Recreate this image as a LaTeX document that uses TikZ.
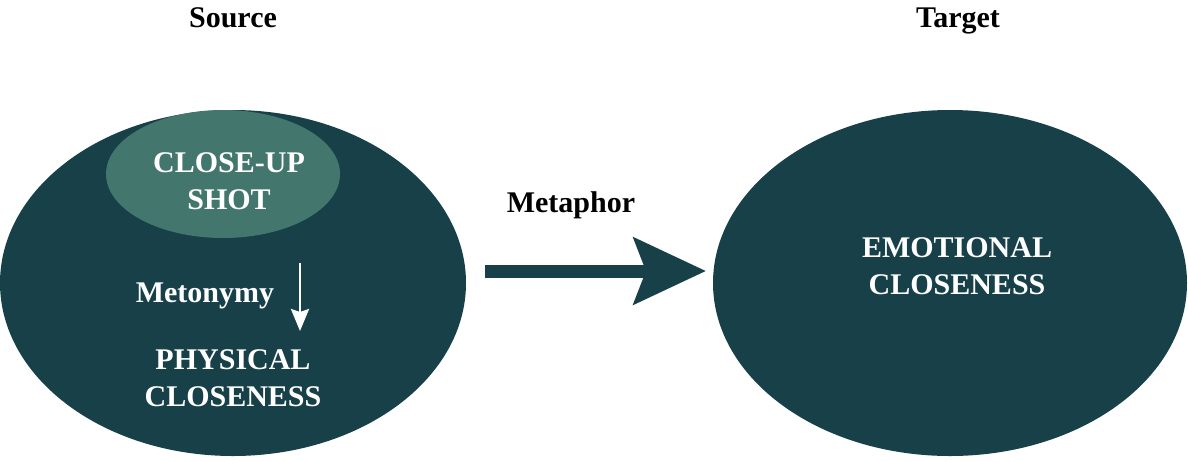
\documentclass[tikz,border=0pt]{standalone}
\usepackage{fontspec}
\setmainfont{Liberation Serif}
\usetikzlibrary{shapes.geometric,arrows.meta}
\definecolor{deepteal}{RGB}{23,64,73}
\definecolor{softteal}{RGB}{67,118,108}
\tikzset{
  domainbox/.style={ellipse, fill=deepteal, inner sep=0pt},
  subdomainbox/.style={ellipse, fill=softteal, inner sep=0pt},
  lbl/.style={font=\fontsize{15}{18.5}\selectfont\bfseries, align=center, inner sep=0pt},
  inlbl/.style={lbl, text=white},
  bigarrow/.style={draw=deepteal, line width=6.5pt,
    -{Stealth[length=36pt, width=33pt, inset=6pt]}},
  smallarrow/.style={draw=white, line width=1.3pt,
    -{Stealth[length=11pt, width=9pt, inset=1.5pt]}}
}
\begin{document}
\begin{tikzpicture}[x=0.5pt, y=-0.5pt]
\useasboundingbox (0,0) rectangle (1188,461);
% source and target domains
\node[domainbox, minimum width=233pt, minimum height=173pt] (src) at (233,283) {};
\node[domainbox, minimum width=237pt, minimum height=173pt] (tgt) at (950,283) {};
\node[subdomainbox, minimum width=117pt, minimum height=64pt] (shot) at (223,174) {};
% headings
\node[lbl, anchor=base] (srcT) at (233,27) {Source};
\node[lbl, anchor=base] (tgtT) at (958,27) {Target};
% labels inside the domains
\node[inlbl] (closeup) at (229,181) {CLOSE-UP\\SHOT};
\node[inlbl] (phys) at (233,378) {PHYSICAL\\CLOSENESS};
\node[inlbl] (emo) at (957,266) {EMOTIONAL\\CLOSENESS};
\node[inlbl] (meto) at (205,296) {Metonymy};
\node[lbl, anchor=base] (meta) at (571,212) {Metaphor};
% metonymy link
\coordinate (mtA) at (300,263);
\coordinate (mtB) at (300,331);
\draw[smallarrow] (mtA) -- (mtB);
% metaphor link
\coordinate (mpA) at (485,271);
\coordinate (mpB) at (706,271);
\draw[bigarrow] (mpA) -- (mpB);
\end{tikzpicture}
\end{document}
